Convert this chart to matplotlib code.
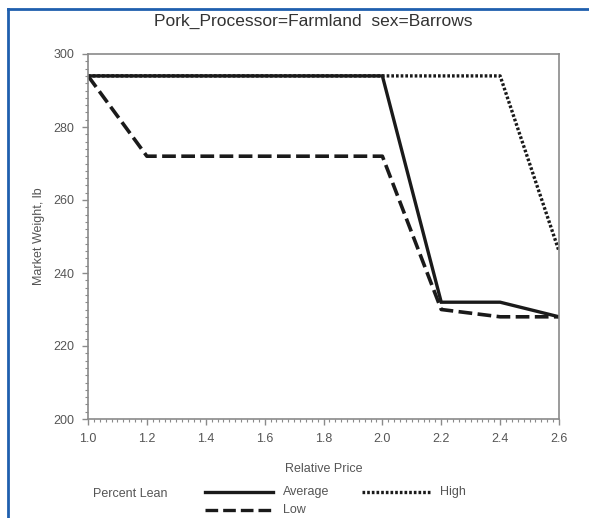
import matplotlib
matplotlib.use('Agg')
import matplotlib.pyplot as plt
from matplotlib.lines import Line2D
from matplotlib.ticker import MultipleLocator, FormatStrFormatter

plt.rcParams['font.family'] = ['Liberation Sans', 'DejaVu Sans']

# relative price vs market weight, one line per lean class
price = [1.0, 1.2, 1.4, 1.6, 1.8, 2.0, 2.2, 2.4, 2.6]
avg_weight = [294, 294, 294, 294, 294, 294, 232, 232, 228]
low_weight = [294, 272, 272, 272, 272, 272, 230, 228, 228]
high_weight = [294, 294, 294, 294, 294, 294, 294, 294, 246]

x_ticks = [1.0, 1.2, 1.4, 1.6, 1.8, 2.0, 2.2, 2.4, 2.6]
y_ticks = [200, 220, 240, 260, 280, 300]

fig = plt.figure(figsize=(5.89, 5.18), dpi=100)
ax = fig.add_axes([88 / 589, 1 - 419 / 518, 471 / 589, 365 / 518])

ink = '#1a1a1a'
dash_low = (0, (3.8, 1.5))
dot_high = (0, (0.8, 0.6))
ax.plot(price, high_weight, color=ink, lw=2.4, linestyle=dot_high,
        dash_capstyle='butt')
ax.plot(price, low_weight, color=ink, lw=2.6, linestyle=dash_low,
        dash_capstyle='butt')
ax.plot(price, avg_weight, color=ink, lw=2.4, solid_joinstyle='miter')

ax.set_xlim(1.0, 2.6)
ax.set_ylim(200, 300)
ax.set_xticks(x_ticks)
ax.set_yticks(y_ticks)
ax.xaxis.set_major_formatter(FormatStrFormatter('%.1f'))
ax.xaxis.set_minor_locator(MultipleLocator(0.02))
ax.yaxis.set_minor_locator(MultipleLocator(2))

frame_col = '#8a8a8a'
for s in ax.spines.values():
    s.set_color(frame_col)
    s.set_linewidth(1.2)
ax.tick_params(which='major', direction='out', length=4, width=1, color=frame_col,
               labelsize=9, labelcolor='#555555', pad=6)
ax.tick_params(which='minor', direction='out', length=2, width=0.8, color=frame_col)
ax.tick_params(axis='x', which='both', top=False)
ax.tick_params(axis='y', which='both', right=False)

ax.set_xlabel('Relative Price', fontsize=9, color='#555555', labelpad=13)
ax.set_ylabel('Market Weight, lb', fontsize=9, color='#555555', labelpad=6)

fig.text(313 / 589, 1 - 21 / 518, 'Pork_Processor=Farmland  sex=Barrows',
         ha='center', va='center', fontsize=12.5, color='#333333')

# legend row under the axis
fig.text(93 / 589, 1 - 494 / 518, 'Percent Lean', ha='left', va='center',
         fontsize=9, color='#555555')
samples = [
    ('Average', '-', 205, 492),
    ('Low', dash_low, 205, 510),
    ('High', dot_high, 362, 492),
]
for name, ls, x0, y0 in samples:
    yy = 1 - y0 / 518
    fig.add_artist(Line2D([x0 / 589, (x0 + 68) / 589], [yy, yy], color=ink,
                          lw=2.4, linestyle=ls, dash_capstyle='butt'))
    fig.text((x0 + 78) / 589, yy, name, ha='left', va='center',
             fontsize=9, color='#555555')

# blue page frame along the top and left edges
blue = '#1f5fae'
fig.add_artist(Line2D([8 / 589, 1], [1 - 9 / 518, 1 - 9 / 518], color=blue, lw=2))
fig.add_artist(Line2D([8 / 589, 8 / 589], [0, 1 - 9 / 518], color=blue, lw=2))

fig.savefig('out.png', dpi=100)
